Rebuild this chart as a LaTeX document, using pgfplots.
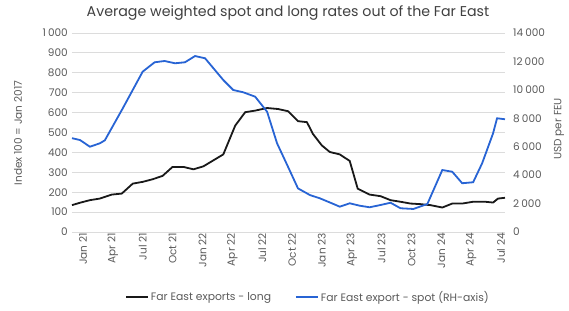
\documentclass[border=0pt]{standalone}
\usepackage{fontspec}
\setmainfont{Poppins}
\usepackage{pgfplots}
\pgfplotsset{compat=1.18}
\usepackage{pgfplotstable}
\definecolor{spotblue}{RGB}{40,100,212}
\definecolor{txtgray}{RGB}{90,90,90}
\definecolor{gridgray}{RGB}{220,220,220}

\pgfplotstableread{
m v
-0.3 135
0.5 147
1.5 160
2.5 168
3.7 188
4.7 193
5.8 243
6.8 252
7.8 265
8.8 282
9.8 327
10.9 327
11.9 315
12.9 330
13.9 360
14.9 390
16.1 535
17.1 602
18.1 610
19.3 623
20.4 618
21.4 607
22.4 557
23.3 552
23.9 493
24.8 435
25.6 402
26.6 390
27.6 357
28.4 218
29.6 188
30.7 180
31.7 160
32.7 152
33.7 143
34.7 140
35.7 135
36.9 123
37.9 143
38.9 143
40.0 152
41.2 152
42.0 148
42.5 168
43.2 172
}\longtab

\pgfplotstableread{
m v
-0.3 6600
0.5 6470
1.5 6000
2.5 6240
3.0 6450
4.8 8700
6.8 11280
8.0 11940
9.0 12030
10.05 11870
11.05 11940
12.06 12380
13.07 12220
14.9 10690
15.9 9990
16.9 9830
18.1 9520
19.3 8460
20.3 6240
21.4 4590
22.4 3070
23.6 2600
24.6 2370
25.8 2020
26.6 1780
27.6 2020
28.6 1850
29.6 1740
30.7 1900
31.7 2060
32.7 1670
34.0 1620
35.4 1970
36.9 4360
37.9 4240
38.9 3430
40.0 3500
40.9 4830
42.0 6940
42.4 8000
43.2 7930
}\spottab

\begin{document}
\begin{tikzpicture}
\useasboundingbox (-72pt,-78pt) rectangle (497pt,232pt);
\begin{axis}[
  scale only axis, width=433pt, height=199pt,
  at={(0,0)}, anchor=south west,
  xmin=-0.3, xmax=43.2, ymin=0, ymax=1000,
  axis line style={draw=none},
  major tick length=0pt,
  ytick={0,100,...,1000},
  ymajorgrids, grid style={gridgray, line width=0.8pt},
  xtick={0,3,...,42},
  xticklabels={Jan 21,Apr 21,Jul 21,Oct 21,Jan 22,Apr 22,Jul 22,Oct 22,Jan 23,Apr 23,Jul 23,Oct 23,Jan 24,Apr 24,Jul 24},
  xticklabel style={rotate=90, anchor=east, font=\fontsize{10.5}{11}\selectfont, text=txtgray, inner sep=1pt, yshift=-8pt},
  yticklabel style={anchor=east, font=\fontsize{10.5}{11}\selectfont, text=txtgray, inner sep=1pt, xshift=-3pt},
  /pgf/number format/1000 sep={\kern0.2em},
  /pgf/number format/assume math mode=true,
  clip=false,
]
\addplot[black!90, line width=1.8pt] table[x=m, y=v] {\longtab};
\end{axis}
\begin{axis}[
  scale only axis, width=433pt, height=199pt,
  at={(0,0)}, anchor=south west,
  xmin=-0.3, xmax=43.2, ymin=0, ymax=14000,
  axis line style={draw=none},
  axis y line*=right,
  hide x axis,
  major tick length=0pt,
  scaled y ticks=false,
  ytick={0,2000,...,14000},
  yticklabel style={anchor=west, font=\fontsize{10.5}{11}\selectfont, text=txtgray, inner sep=1pt, xshift=7pt},
  /pgf/number format/1000 sep={\kern0.2em},
  /pgf/number format/assume math mode=true,
  legend style={at={(axis description cs:0.545,-0.327)}, anchor=center, draw=none, fill=none,
    font=\fontsize{10.8}{11}\selectfont, text=txtgray, legend columns=2,
    /tikz/every even column/.append style={column sep=22pt},
    legend cell align=left, inner sep=0pt},
  legend image code/.code={\draw[#1] (0pt,0pt) -- (22pt,0pt);},
  clip=false,
]
\addlegendimage{black!90, line width=1.8pt}
\addlegendentry{Far East exports - long}
\addplot[spotblue, line width=1.8pt] table[x=m, y=v] {\spottab};
\addlegendentry{Far East export - spot (RH-axis)}
\end{axis}
\node[text=black!75, font=\fontsize{14.2}{15}\selectfont] at (216pt,219pt) {Average weighted spot and long rates out of the Far East};
\node[rotate=90, text=txtgray, font=\fontsize{10.5}{11}\selectfont] at (-54pt,99pt) {Index 100 = Jan 2017};
\node[rotate=90, text=txtgray, font=\fontsize{10.5}{11}\selectfont] at (487pt,103pt) {USD per FEU};
\end{tikzpicture}
\end{document}
